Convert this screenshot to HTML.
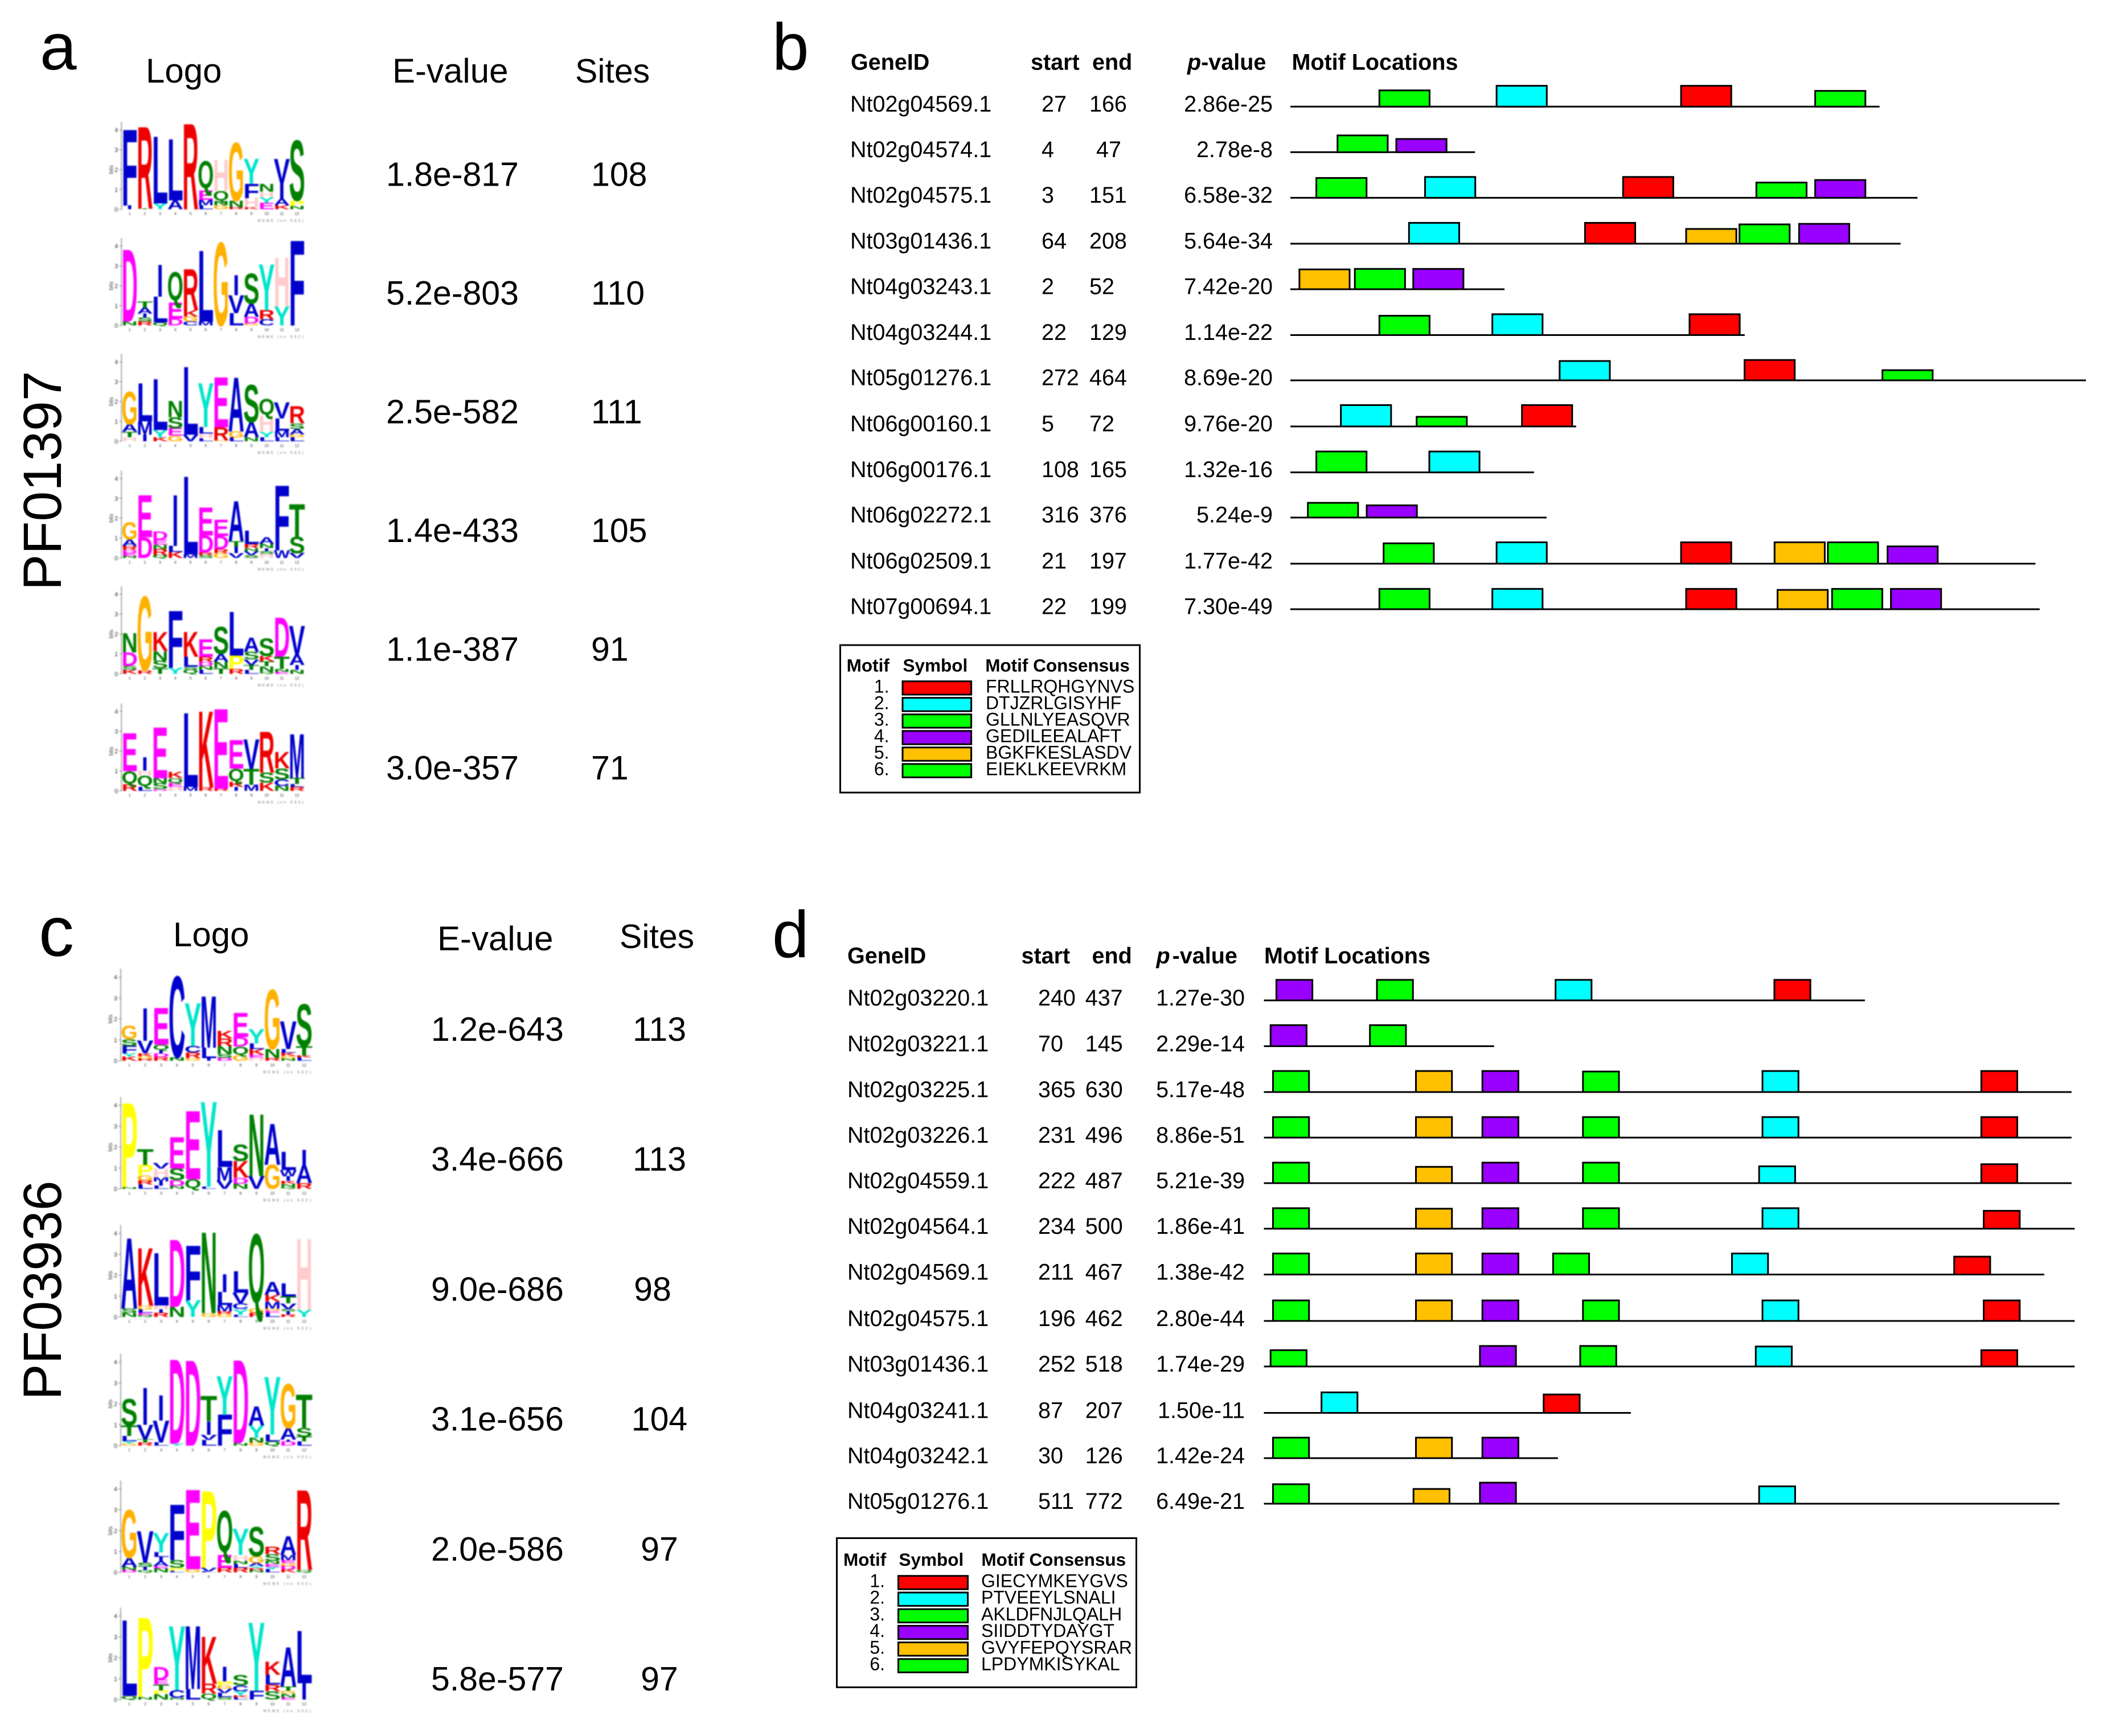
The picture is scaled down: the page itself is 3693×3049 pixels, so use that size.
<!DOCTYPE html>
<html lang="en">
<head>
<meta charset="utf-8">
<title>PF01397 and PF03936 motif logos and locations</title>
<style>
html,body{margin:0;padding:0;background:#fff;}
svg{display:block;font-family:"Liberation Sans",Arial,sans-serif;}
.logo-blur{filter:blur(1px);}
</style>
</head>
<body>
<svg id="fig" xmlns="http://www.w3.org/2000/svg" width="3693" height="3049" viewBox="0 0 3693 3049">
  <rect x="0" y="0" width="3693" height="3049" fill="#fff"/>
  <text x="70" y="122" font-size="116">a</text>
  <text x="1356" y="122" font-size="116">b</text>
  <text x="68" y="1679" font-size="124">c</text>
  <text x="1356" y="1681" font-size="116">d</text>
  <text transform="translate(107,1037) rotate(-90)" font-size="95">PF01397</text>
  <text transform="translate(107,2459) rotate(-90)" font-size="95">PF03936</text>

  <text x="256" y="145" font-size="60">Logo</text>
  <text x="689" y="145" font-size="60">E-value</text>
  <text x="1010" y="145" font-size="59">Sites</text>
  <text x="304" y="1662" font-size="60">Logo</text>
  <text x="768" y="1669" font-size="60">E-value</text>
  <text x="1088" y="1665" font-size="59">Sites</text>

  <g font-weight="bold" font-size="39.5">
    <text x="1494" y="122.7">GeneID</text>
    <text x="1810" y="122.7">start</text>
    <text x="1918" y="122.7">end</text>
    <text x="2085" y="122.7"><tspan font-style="italic">p</tspan>-value</text>
    <text x="2268.5" y="122.7">Motif Locations</text>
    <text x="1488" y="1692">GeneID</text>
    <text x="1793.5" y="1692">start</text>
    <text x="1917.5" y="1692">end</text>
    <text x="2030.5" y="1692"><tspan font-style="italic">p</tspan><tspan dx="4">-value</tspan></text>
    <text x="2220" y="1692">Motif Locations</text>
  </g>

  <rect x="1475.5" y="1133" width="526" height="259" fill="#fff" stroke="#000" stroke-width="3"/>
  <g font-weight="bold" font-size="31.5">
    <text x="1486.6" y="1179.3">Motif</text>
    <text x="1585.5" y="1179.3">Symbol</text>
    <text x="1730.2" y="1179.3">Motif Consensus</text>
  </g>
  <rect x="1469.5" y="2701.5" width="526" height="262" fill="#fff" stroke="#000" stroke-width="3"/>
  <g font-weight="bold" font-size="31.5">
    <text x="1481" y="2750">Motif</text>
    <text x="1578.5" y="2750">Symbol</text>
    <text x="1723.4" y="2750">Motif Consensus</text>
  </g>
  <g id="layer"></g>
</svg>
<script>
// ---------- Panel a / c summary values ----------
const evaluesA = ["1.8e-817","5.2e-803","2.5e-582","1.4e-433","1.1e-387","3.0e-357"];
const sitesA = ["108","110","111","105","91","71"];
const evaluesC = ["1.2e-643","3.4e-666","9.0e-686","3.1e-656","2.0e-586","5.8e-577"];
const sitesC = ["113","113","98","104","97","97"];

// ---------- Panel b table ----------
const genesB = ["Nt02g04569.1","Nt02g04574.1","Nt02g04575.1","Nt03g01436.1","Nt04g03243.1","Nt04g03244.1","Nt05g01276.1","Nt06g00160.1","Nt06g00176.1","Nt06g02272.1","Nt06g02509.1","Nt07g00694.1"];
const startsB = [27,4,3,64,2,22,272,5,108,316,21,22];
const endsB = [166,47,151,208,52,129,464,72,165,376,197,199];
const pvaluesB = ["2.86e-25","2.78e-8","6.58e-32","5.64e-34","7.42e-20","1.14e-22","8.69e-20","9.76e-20","1.32e-16","5.24e-9","1.77e-42","7.30e-49"];
// each hit: [motif number, residue offset from start, score]
const hitsB = [
 [[3,20.9,3.2],[2,48.6,4.1],[1,92.2,4.1],[3,123.9,3.1]],
 [[3,11,3.3],[4,24.9,2.6]],
 [[3,6,3.9],[2,31.7,4.1],[1,78.5,4.1],[3,110,3],[4,123.9,3.5]],
 [[2,27.9,4.1],[1,69.5,4.1],[5,93.4,2.9],[3,106,3.8],[4,120.1,3.9]],
 [[5,2,3.9],[3,15.1,4],[4,28.9,4]],
 [[3,20.9,3.8],[2,47.6,4.1],[1,94.2,4.1]],
 [[2,63.5,3.8],[1,107.2,4],[3,139.8,2]],
 [[2,11.8,4.2],[3,29.7,1.9],[1,54.6,4.2]],
 [[3,6,4.1],[2,32.7,4.1]],
 [[3,4,2.9],[4,17.9,2.4]],
 [[3,21.9,4],[2,48.6,4.2],[1,92.2,4.2],[5,114.3,4.2],[3,126.9,4.2],[4,141,3.4]],
 [[3,20.9,4],[2,47.6,4],[1,93.4,4],[5,115,3.8],[3,127.9,4],[4,141.8,4]]
];

// ---------- Panel d table ----------
const genesD = ["Nt02g03220.1","Nt02g03221.1","Nt02g03225.1","Nt02g03226.1","Nt02g04559.1","Nt02g04564.1","Nt02g04569.1","Nt02g04575.1","Nt03g01436.1","Nt04g03241.1","Nt04g03242.1","Nt05g01276.1"];
const startsD = [240,70,365,231,222,234,211,196,252,87,30,511];
const endsD = [437,145,630,496,487,500,467,462,518,207,126,772];
const pvaluesD = ["1.27e-30","2.29e-14","5.17e-48","8.86e-51","5.21e-39","1.86e-41","1.38e-42","2.80e-44","1.74e-29","1.50e-11","1.42e-24","6.49e-21"];
const hitsD = [
 [[4,3.9,3.9],[3,36.9,3.9],[2,95.5,3.9],[1,167.3,3.9]],
 [[4,2,4],[3,34.6,4]],
 [[3,2.8,4],[5,49.7,4],[4,71.5,4],[3,104.5,3.9],[2,163.4,4],[1,235.2,4]],
 [[3,2.8,3.9],[5,49.7,3.9],[4,71.5,3.9],[3,104.5,3.9],[2,163.4,3.9],[1,235.2,3.9]],
 [[3,2.8,3.9],[5,49.7,3.1],[4,71.5,3.9],[3,104.5,3.9],[2,162.3,3.2],[1,235.2,3.6]],
 [[3,2.8,3.9],[5,49.7,3.8],[4,71.5,3.9],[3,104.5,3.9],[2,163.4,3.9],[1,236,3.4]],
 [[3,2.8,4],[5,49.7,4],[4,71.5,4],[3,94.7,4],[2,153.4,4],[1,226.3,3.4]],
 [[3,2.8,3.9],[5,49.7,3.9],[4,71.5,3.9],[3,104.5,3.9],[2,163.4,3.9],[1,236,3.9]],
 [[3,2,3.1],[4,70.7,3.9],[3,103.6,3.9],[2,161.2,3.8],[1,235.2,3.1]],
 [[2,18.7,3.9],[1,91.6,3.5]],
 [[3,2.8,3.9],[5,49.7,3.9],[4,71.5,3.9]],
 [[3,2.8,3.7],[5,48.9,2.8],[4,70.7,4],[2,162.3,3.3]]
];

// ---------- Legends ----------
const legendNumbers = ["1.","2.","3.","4.","5.","6."];
const consensusB = ["FRLLRQHGYNVS","DTJZRLGISYHF","GLLNLYEASQVR","GEDILEEALAFT","BGKFKESLASDV","EIEKLKEEVRKM"];
const consensusD = ["GIECYMKEYGVS","PTVEEYLSNALI","AKLDFNJLQALH","SIIDDTYDAYGT","GVYFEPQYSRAR","LPDYMKISYKAL"];
const motifFill = {1:"#ff0000",2:"#00ffff",3:"#00ff00",4:"#9900ff",5:"#ffc000",6:"#00ff00"};
const legendMotifs = [1,2,3,4,5,6];

// ---------- Sequence logos: 12 columns, each stack bottom to top as [letter, bits] ----------
const logoTicks = [0,1,2,3,4];
const logoA1 = [
 [["I",.19],["F",3.8]],[["T",.03],["R",4.1]],[["Y",.3],["L",3.35]],[["A",.45],["L",3.07]],[["R",4.28]],
 [["L",.2],["M",.28],["E",.47],["Q",1.5]],[["G",.2],["N",.22],["Q",.5],["H",1.55]],[["R",.1],["N",.33],["G",2.9]],
 [["K",.1],["H",.47],["F",.72],["Y",1.25]],[["E",.33],["Y",.28],["H",.28],["N",.38]],[["K",.2],["A",.33],["I",.8],["V",1.2]],[["N",.17],["P",.28],["S",3]]
];
const logoA2 = [
 [["N",.2],["D",3.6]],[["R",.2],["S",.2],["I",.2],["A",.3],["T",.3]],[["Q",.15],["L",1.3],["I",1.6]],[["D",.35],["E",.8],["Q",1.55]],
 [["C",.2],["G",.25],["K",.33],["R",2.05]],[["M",.2],["L",3.55]],[["G",4.15]],[["L",.62],["V",.9],["I",1]],
 [["G",.1],["D",.33],["A",.67],["S",1.5]],[["C",.3],["R",.47],["Y",2.3]],[["Y",.95],["H",2.45]],[["F",4.25]]
];
const logoA3 = [
 [["H",.2],["T",.28],["A",.38],["G",1.62]],[["I",.33],["M",.67],["L",1.9]],[["K",.19],["Y",.38],["L",2.55]],[["G",.28],["E",.38],["S",.55],["N",.82]],
 [["V",.33],["L",3.4]],[["L",.14],["H",.24],["L",.33],["Y",2.2]],[["G",.05],["R",.65],["E",2.5]],[["L",.19],["G",.3],["A",2.7]],
 [["N",.2],["A",.76],["S",1.87]],[["L",.2],["Y",.28],["H",.8],["Q",.86]],[["L",.2],["M",.33],["L",.62],["V",.8]],[["L",.2],["G",.14],["A",.28],["S",.28],["R",.86]]
];
const logoA4 = [
 [["N",.1],["E",.15],["D",.15],["R",.2],["A",.33],["G",.85]],[["D",1.05],["E",2.1]],[["Q",.15],["R",.3],["N",.22],["E",.25],["D",.42]],[["K",.3],["L",.3],["I",2.55]],
 [["M",.18],["L",3.9]],[["S",.15],["R",.12],["D",.86],["E",1.4]],[["G",.24],["R",.2],["D",.66],["E",.82]],[["V",.24],["I",.33],["T",.28],["A",2]],
 [["S",.15],["V",.2],["N",.15],["R",.2],["L",.67]],[["H",.2],["S",.15],["I",.15],["N",.22],["A",.33]],[["W",.38],["F",3.25]],[["V",.25],["S",.82],["T",1.62]]
];
const logoA5 = [
 [["K",.2],["S",.2],["D",.67],["N",.97]],[["R",.16],["G",3.7]],[["T",.28],["S",.38],["N",.48],["K",.95]],[["Y",.3],["F",2.85]],
 [["Q",.2],["S",.15],["L",.5],["K",1.24]],[["L",.2],["N",.2],["D",.2],["R",.25],["E",.87]],[["T",.28],["N",.33],["A",.38],["S",1.35]],[["R",.24],["P",.67],["L",2.2]],
 [["L",.2],["T",.24],["V",.28],["S",.38],["A",.72]],[["Q",.1],["N",.28],["T",.24],["K",.28],["S",.88]],[["E",.1],["N",.14],["T",.62],["D",1.95]],[["N",.2],["I",.24],["A",.52],["V",1.45]]
];
const logoA6 = [
 [["R",.32],["Q",.67],["E",1.9]],[["L",.2],["Q",.57],["H",.25],["I",.67]],[["D",.08],["S",.3],["N",.25],["E",2.55]],[["H",.2],["E",.2],["Q",.25],["K",.3]],
 [["M",.2],["L",3.7]],[["R",.18],["K",3.8]],[["R",.1],["E",4]],[["I",.2],["K",.25],["Q",.67],["E",1.43]],
 [["M",.3],["T",.8],["V",1.48]],[["K",.42],["S",.5],["R",2.05]],[["N",.25],["C",.33],["S",.55],["K",.83]],[["R",.2],["L",.15],["T",.3],["M",2.2]]
];
const logoC1 = [
 [["K",.2],["Y",.15],["F",.36],["S",.32],["G",.65]],[["R",.1],["G",.12],["K",.13],["V",.6],["I",1.55]],[["R",.18],["D",.18],["I",.15],["Q",.25],["E",1.75]],[["N",.16],["C",3.85]],
 [["G",.12],["R",.27],["C",.32],["Y",2.03]],[["I",.12],["L",.5],["M",2.45]],[["D",.14],["S",.18],["N",.38],["R",.36],["K",.36]],[["G",.27],["Q",.41],["D",.45],["E",1.14]],
 [["H",.15],["E",.14],["K",.27],["L",.27],["Y",.68]],[["R",.14],["N",.42],["G",2.82]],[["N",.1],["G",.13],["K",.15],["L",.18],["V",1.32]],[["L",.15],["K",.1],["T",.45],["S",2]]
];
const logoC2 = [
 [["N",.08],["P",4]],[["L",.2],["R",.2],["G",.24],["P",.5],["T",.75]],[["L",.15],["I",.2],["M",.2],["H",.42],["V",.28]],[["N",.14],["D",.28],["S",.55],["E",1.5]],
 [["Q",.46],["E",3.25]],[["L",.1],["Y",4.05]],[["V",.4],["M",.65],["L",1.75]],[["N",.25],["D",.28],["K",.8],["S",.78]],
 [["V",.6],["N",2.95]],[["G",1.15],["A",1.95]],[["Q",.1],["N",.14],["K",.14],["I",.22],["W",.3],["L",.87]],[["R",.27],["A",.85],["I",.75]]
];
const logoC3 = [
 [["N",.2],["S",.2],["A",3.35]],[["Q",.1],["E",.1],["L",.15],["G",.18],["K",2.75]],[["R",.2],["I",.15],["H",.2],["L",2.5]],[["N",.48],["D",3.2]],
 [["Y",.8],["F",2.6]],[["G",.18],["N",3.85]],[["G",.15],["R",.12],["M",.3],["L",.62],["I",.85]],[["L",.1],["Y",.28],["C",.28],["V",.5],["L",1.02]],
 [["R",.2],["G",.2],["Q",3.6]],[["L",.2],["E",.1],["G",.1],["M",.33],["K",.33],["A",.6]],[["R",.12],["I",.15],["S",.1],["V",.28],["T",.33],["L",.62]],[["Y",.34],["H",3.38]]
];
const logoC4 = [
 [["G",.1],["Y",.12],["L",.25],["T",.5],["S",1.25]],[["R",.15],["T",.15],["V",.7],["I",1.75]],[["L",.15],["V",1.05],["I",1.2]],[["Y",.1],["D",4]],
 [["D",4.05]],[["L",.27],["V",.25],["I",.65],["T",1.2]],[["F",1.47],["Y",1.85]],[["N",.12],["D",3.95]],
 [["G",.15],["N",.22],["Y",.6],["A",.9]],[["Q",.2],["L",.33],["Y",2.75]],[["D",.2],["I",.08],["A",.55],["G",2.1]],[["L",.2],["T",.22],["S",.42],["T",1.58]]
];
const logoC5 = [
 [["D",.12],["N",.15],["A",.42],["G",2.28]],[["Q",.12],["I",.15],["S",.2],["V",1.5]],[["N",.2],["E",.1],["A",.22],["I",.22],["L",.22],["Y",.92]],[["L",.08],["P",.14],["S",.36],["F",2.65]],
 [["G",.16],["E",3.78]],[["L",.05],["V",.17],["P",3.65]],[["R",.22],["E",.6],["Q",2.15]],[["R",.22],["L",.18],["N",.15],["H",.28],["Y",1.25]],
 [["N",.1],["R",.1],["Y",.1],["A",.15],["G",.32],["S",1.4]],[["L",.15],["Y",.12],["E",.14],["N",.14],["S",.33],["R",.35]],[["K",.15],["D",.16],["G",.14],["E",.14],["M",.25],["A",.88]],[["Q",.12],["R",3.8]]
];
const logoC6 = [
 [["Q",.18],["L",3.6]],[["N",.12],["P",3.78]],[["N",.26],["P",.18],["T",.28],["E",.22],["D",.6]],[["N",.08],["C",.37],["Y",3.05]],
 [["L",.5],["M",3]],[["Q",.28],["R",.47],["K",2.25]],[["S",.12],["L",.2],["V",.2],["G",.15],["P",.2],["I",.7]],[["L",.1],["K",.1],["Y",.2],["C",.28],["S",.48]],
 [["F",.42],["Y",3.25]],[["S",.4],["R",.32],["L",.47],["K",.62]],[["E",.1],["N",.18],["G",.14],["T",.2],["A",1.87]],[["I",.78],["L",2.5]]
];
const residueColor = {A:"#0000cc",C:"#0000cc",F:"#0000cc",I:"#0000cc",L:"#0000cc",M:"#0000cc",V:"#0000cc",W:"#0000cc",
 R:"#ee0000",K:"#ee0000",N:"#008000",Q:"#008000",S:"#008000",T:"#008000",D:"#ff00ff",E:"#ff00ff",G:"#ffb000",H:"#ffcccc",P:"#ffff00",Y:"#00e5cc"};

// ---------- Drawing ----------
const NS = "http://www.w3.org/2000/svg";
const layer = document.getElementById("layer");
function make(tag, attrs, parent, txt) {
  const el = document.createElementNS(NS, tag);
  for (const k in attrs) el.setAttribute(k, attrs[k]);
  if (txt !== undefined) el.textContent = txt;
  (parent || layer).appendChild(el);
  return el;
}

function drawSummary(evalues, sites, baseY, stepY, evalX, siteX, anchor, prefix) {
  evalues.forEach(function (v, i) {
    const y = baseY + i * stepY;
    const e = make("text", {x: evalX, y: y, "font-size": 59}, layer, v);
    
    
    let sx = siteX;
    if (prefix === 'c' && sites[i] === "98") sx = siteX - 12;
    const s = make("text", {x: sx, y: y, "font-size": 59, "text-anchor": anchor}, layer, sites[i]);
    
    
  });
}
drawSummary(evaluesA, sitesA, 326.6, 208.5, 678, 1038, "start", "a");
drawSummary(evaluesC, sitesC, 1828, 228.2, 757, 1158, "middle", "c");

function drawLogo(columns, geo) {
  const g = make("g", {"class": "logo-blur"});
  
  
  const yBits = function (b) { return geo.zero - b * geo.bitPx; };
  const xCol = function (c) { return geo.x0 + c * geo.colW; };
  const axis = make("line", {x1: geo.x0 - 1, x2: geo.x0 - 1, y1: geo.zero, y2: yBits(4.4), stroke: "#aaa", "stroke-width": 2}, g);
  
  
  logoTicks.forEach(function (t) {
    const tick = make("line", {x1: geo.x0 - 5, x2: geo.x0, y1: yBits(t), y2: yBits(t), stroke: "#777", "stroke-width": 1}, g);
    
    
    const lab = make("text", {x: geo.x0 - 7, y: yBits(t) + 4, "font-size": 11, "text-anchor": "end", fill: "#333"}, g, String(t));
    
    
  });
  const bits = make("text", {transform: "translate(" + (geo.x0 - 16) + "," + yBits(2) + ") rotate(-90)", "font-size": 10, "text-anchor": "middle", fill: "#444"}, g, "bits");
  
  
  columns.forEach(function (stack, c) {
    let base = 0;
    stack.forEach(function (pair) {
      const letter = pair[0], h = pair[1];
      // Q has a descender: fit the whole glyph, tail included, inside its slot
      const isQ = letter === "Q";
      const sy = (h * geo.bitPx) / (isQ ? 76 : 68.8);
      const lift = isQ ? 6 * sy : 0;
      const narrow = letter === "I";
      const w = narrow ? geo.colW * 0.42 : geo.colW * 1.06;
      const lx = xCol(c) + (geo.colW - w) / 2;
      const t = make("text", {
        transform: "translate(" + lx + "," + (yBits(base) - lift) + ") scale(1," + sy + ")",
        "font-size": 100, "font-weight": "bold", textLength: w, lengthAdjust: "spacingAndGlyphs",
        fill: residueColor[letter]
      }, g, letter);
      
      
      base += h;
    });
    const n = make("text", {x: xCol(c) + geo.colW / 2, y: geo.zero + 10, "font-size": 7, "text-anchor": "middle", fill: "#333"}, g, String(c + 1));
    
    
  });
  const credit = make("text", {x: xCol(9) - 2, y: geo.zero + 22, "font-size": 6, fill: "#666", textLength: geo.colW * 3, lengthAdjust: "spacing"}, g, "MEME (no SSC)");
  
  
}
const logosA = [logoA1, logoA2, logoA3, logoA4, logoA5, logoA6];
const zerosA = [367.7, 571.7, 775, 980, 1183.3, 1389];
const logosC = [logoC1, logoC2, logoC3, logoC4, logoC5, logoC6];
const zerosC = [1863, 2088, 2313, 2539, 2761.7, 2985];
logosA.forEach(function (l, i) { drawLogo(l, {x0: 214.3, colW: 26.72, zero: zerosA[i], bitPx: 34.9}); });
logosC.forEach(function (l, i) { drawLogo(l, {x0: 213, colW: 27.92, zero: zerosC[i], bitPx: 36.7}); });

function drawTable(cfg) {
  const xAA = function (aa) { return cfg.x0 + aa * cfg.aaPx; };
  const xLineEnd = function (len) { return Math.min(cfg.x0 + cfg.lineLead + len * cfg.linePx, cfg.clipX); };
  const wMotif = 12 * cfg.aaPx - 1;
  cfg.genes.forEach(function (gene, i) {
    const y = cfg.lineYs[i];
    const ty = y + cfg.textDy;
    const a = make("text", {x: cfg.geneX, y: ty, "font-size": 39.5}, layer, gene);
    
    
    const b = make("text", {x: cfg.startX, y: ty, "font-size": 39.5}, layer, String(cfg.starts[i]));
    
    
    const endX = (cfg.ends[i] === 47) ? cfg.endX + 12 : cfg.endX;
    const c = make("text", {x: endX, y: ty, "font-size": 39.5}, layer, String(cfg.ends[i]));
    
    
    const d = make("text", {x: cfg.pX, y: ty, "font-size": 39.5, "text-anchor": "end"}, layer, cfg.pvalues[i]);
    
    
    const line = make("line", {x1: cfg.x0, x2: xLineEnd(cfg.ends[i] - cfg.starts[i]), y1: y, y2: y, stroke: "#000", "stroke-width": 3});
    
    
    cfg.hits[i].forEach(function (hit) {
      const h = hit[2] * cfg.scorePx;
      const r = make("rect", {x: xAA(hit[1]) + 1, y: y - h, width: wMotif, height: h, fill: motifFill[hit[0]], stroke: "#000", "stroke-width": 3});
      
      
    });
  });
}
drawTable({genes: genesB, starts: startsB, ends: endsB, pvalues: pvaluesB, hits: hitsB,
  lineYs: [187.3,267.3,347.4,428,508,588.5,668,749,829.6,909,990,1070],
  x0: 2266, aaPx: 7.43, lineLead: 6, linePx: 7.40, scorePx: 8.93, clipX: 3663, textDy: 8.5, geneX: 1493, startX: 1829, endX: 1913, pX: 2235});
drawTable({genes: genesD, starts: startsD, ends: endsD, pvalues: pvaluesD, hits: hitsD,
  lineYs: [1757,1837.5,1918,1998,2078,2158,2238.5,2320,2400,2481.5,2561,2641],
  x0: 2219.5, aaPx: 5.352, lineLead: 4, linePx: 5.337, scorePx: 9.24, clipX: 3693, textDy: 9, geneX: 1488, startX: 1823, endX: 1905.8, pX: 2186});

function drawLegend(consensus, cfg) {
  legendMotifs.forEach(function (m, i) {
    const cy = cfg.y0 + i * cfg.step;
    const n = make("text", {x: cfg.numX, y: cy + 8, "font-size": 32, "text-anchor": "end"}, layer, legendNumbers[i]);
    
    
    const s = make("rect", {x: cfg.symX, y: cy - 11.7, width: cfg.symW, height: 23.4, fill: motifFill[m], stroke: "#000", "stroke-width": 3});
    
    
    const c = make("text", {x: cfg.txtX, y: cy + 8, "font-size": 32}, layer, consensus[i]);
    
    
  });
}
drawLegend(consensusB, {y0: 1208.3, step: 29.05, numX: 1561.5, symX: 1585, symW: 120.6, txtX: 1731});
drawLegend(consensusD, {y0: 2779.5, step: 29.2, numX: 1554, symX: 1577.5, symW: 122, txtX: 1723});
</script>
</body>
</html>
